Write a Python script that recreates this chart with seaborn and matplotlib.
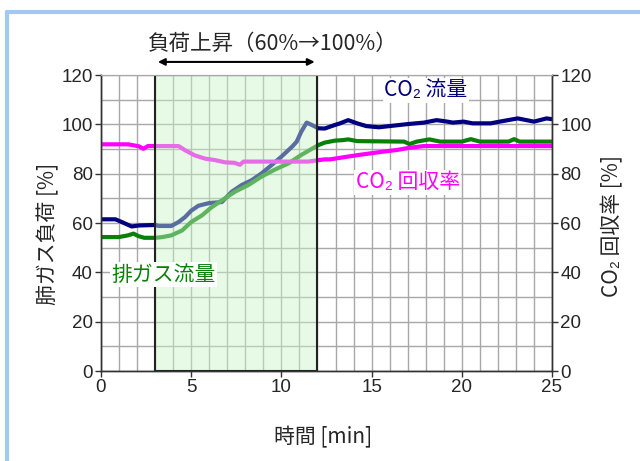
import matplotlib
matplotlib.use("Agg")
import matplotlib.pyplot as plt
import seaborn as sns
from matplotlib.lines import Line2D
from matplotlib.ticker import MultipleLocator

# Data (time in min, values in %)
co2_flow_t = [0, 0.8, 1.15, 1.7, 2.1, 3.0, 3.2, 3.9, 4.3, 4.66, 5.0, 5.4, 6.0, 6.7,
              7.25, 7.8, 8.36, 8.9, 9.46, 10.0, 10.6, 10.85, 11.1, 11.4, 11.7, 12.05,
              12.4, 12.95, 13.25, 13.7, 14.2, 14.7, 15.4, 16.0, 17.0, 17.9, 18.6, 19.2,
              19.5, 20.1, 20.6, 21.6, 22.1, 23.1, 24.0, 24.7, 25]
co2_flow = [61.5, 61.5, 60.4, 58.6, 59.0, 59.2, 58.8, 58.8, 60.4, 62.4, 65.0, 67.0, 68.1, 68.5,
            72.7, 75.4, 77.4, 80.1, 83.5, 86.9, 91.0, 93.0, 97.0, 100.7, 99.7, 98.4,
            98.3, 99.7, 100.4, 101.7, 100.4, 99.3, 98.8, 99.3, 100.1, 100.7, 101.7, 101.1,
            100.7, 101.1, 100.4, 100.4, 101.1, 102.4, 101.1, 102.4, 102.1]

exhaust_t = [0, 1.0, 1.5, 1.8, 2.07, 2.4, 3.0, 3.4, 3.9, 4.5, 5.0, 5.6, 6.1, 6.7, 7.43,
             8.17, 8.9, 9.65, 10.4, 11.1, 12.05, 12.4, 12.97, 13.4, 13.7, 14.2, 16.8,
             17.1, 17.5, 18.2, 18.8, 20.0, 20.5, 21.0, 22.6, 22.9, 23.2, 25]
exhaust_flow = [54.3, 54.3, 55.0, 55.7, 54.7, 54.0, 54.0, 54.3, 55.0, 57.0, 60.4, 63.1, 66.2,
                69.2, 72.7, 75.4, 78.8, 81.7, 84.2, 87.6, 91.6, 92.6, 93.4, 93.6, 93.9, 93.2,
                93.0, 92.0, 93.0, 93.9, 93.0, 93.0, 94.0, 93.0, 93.0, 94.0, 93.0, 93.0]

recovery_t = [0, 1.5, 2.1, 2.35, 2.6, 4.3, 4.66, 5.2, 5.77, 6.32, 6.87, 7.4, 7.7, 7.9,
              11.5, 12.05, 12.4, 12.7, 13.4, 14.2, 14.9, 15.6, 16.4, 17.1, 17.9, 18.6,
              19.3, 25]
co2_recovery = [91.9, 91.9, 91.1, 90.1, 91.2, 91.2, 89.5, 87.4, 86.1, 85.5, 84.6, 84.4, 83.6,
                84.9, 84.9, 85.5, 85.8, 85.8, 86.6, 87.5, 88.2, 88.9, 89.6, 90.5, 91.2,
                91.2, 91.2, 91.2]

load_start, load_end = 3, 12

sns.set_style("white")
plt.rcParams['font.family'] = ['Liberation Sans', 'Noto Sans CJK JP', 'DejaVu Sans']
jp = ['Noto Sans CJK JP', 'Liberation Sans', 'DejaVu Sans']

fig = plt.figure(figsize=(6.4, 4.61), dpi=100)
ax = fig.add_axes([0.1578, 0.1952, 0.7047, 0.6421])

sns.lineplot(x=co2_flow_t, y=co2_flow, color='#000080', lw=3, ax=ax, zorder=2)
sns.lineplot(x=exhaust_t, y=exhaust_flow, color='#0a800a', lw=3, ax=ax, zorder=2)
sns.lineplot(x=recovery_t, y=co2_recovery, color='#ff00ff', lw=3, ax=ax, zorder=2)

# Load-increase period (drawn over the lines, semi-transparent)
ax.axvspan(load_start, load_end, facecolor=(200/255, 244/255, 200/255, 0.45),
           edgecolor='#222222', lw=1.5, zorder=3)

ax.set_xlim(0, 25)
ax.set_ylim(0, 120)
ax.xaxis.set_major_locator(MultipleLocator(5))
ax.xaxis.set_minor_locator(MultipleLocator(1))
ax.yaxis.set_major_locator(MultipleLocator(20))
ax.yaxis.set_minor_locator(MultipleLocator(10))
ax.grid(which='both', color='#a8a8a8', lw=1)
ax.set_axisbelow(True)
ax.tick_params(which='major', direction='out', length=4, width=1, color='#333333',
               labelsize=13.5, left=True, bottom=True, pad=2)
ax.tick_params(which='minor', length=0)

ax2 = ax.twinx()
ax2.set_ylim(0, 120)
ax2.yaxis.set_major_locator(MultipleLocator(20))
ax2.tick_params(direction='out', length=4, width=1, color='#333333', labelsize=13.5, pad=2)
ax2.grid(False)

for a in (ax, ax2):
    for side in ('left', 'right', 'bottom'):
        a.spines[side].set_color('#333333')
        a.spines[side].set_linewidth(1)
    a.spines['top'].set_color('#a8a8a8')

ax.set_xlabel('')
ax.set_ylabel('')
fig.text(48/640, 1 - 234/461, '肺ガス負荷 [%]', rotation=90, ha='center', va='center',
         fontsize=15, family=jp)
fig.text(612/640, 1 - 226/461, 'CO₂ 回収率 [%]', rotation=90, ha='center', va='center',
         fontsize=15, family=jp)
fig.text(323/640, 1 - 437/461, '時間 [min]', ha='center', va='center', fontsize=15, family=jp)

# Annotation of the load increase
ax.annotate('', xy=(load_start, 125.3), xytext=(load_end, 125.3),
            arrowprops=dict(arrowstyle='<|-|>', color='black', lw=1.5, mutation_scale=10),
            annotation_clip=False)
ax.text(2.6, 132.5, '負荷上昇（60%→100%）', ha='left', va='center', fontsize=15.5,
        family=jp, clip_on=False)

box = dict(facecolor='white', edgecolor='none', pad=1)
ax.text(18.0, 113.9, 'CO₂ 流量', color='#000080', ha='center', va='center', fontsize=15,
        family=jp, bbox=box, zorder=5)
ax.text(17.0, 76.6, 'CO₂ 回収率', color='#ff00ff', ha='center', va='center', fontsize=15,
        family=jp, bbox=box, zorder=5)
ax.text(3.45, 39, '排ガス流量', color='#0a800a', ha='center', va='center', fontsize=15,
        family=jp, bbox=box, zorder=5)

# Light blue frame on the top and left edges
fig.add_artist(Line2D([7/640, 1], [1 - 12/461, 1 - 12/461], color='#a3c8f2', lw=3,
                      transform=fig.transFigure))
fig.add_artist(Line2D([7/640, 7/640], [0, 1 - 12/461], color='#a3c8f2', lw=3,
                      transform=fig.transFigure))

fig.savefig('out.png', dpi=100)
